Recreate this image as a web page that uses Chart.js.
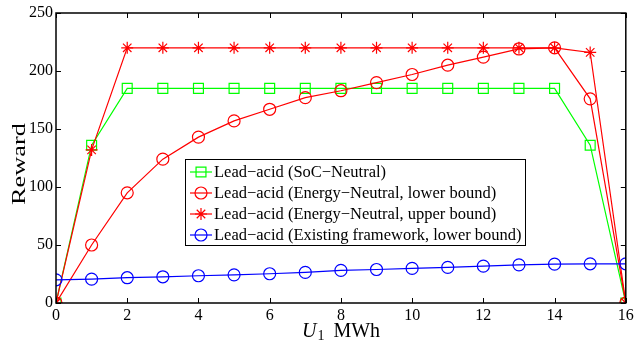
<!DOCTYPE html>
<html><head><meta charset="utf-8">
<script src="https://cdn.jsdelivr.net/npm/chart.js@4/dist/chart.umd.min.js"></script>
<style>html,body{margin:0;padding:0;background:#fff}#wrap{width:634px;height:343px}</style>
</head><body><div id="wrap"><canvas id="c" width="634" height="343"></canvas></div>
<script>
const xValues = [0,1,2,3,4,5,6,7,8,9,10,11,12,13,14,15,16];
const socNeutral = [0,136,185,185,185,185,185,185,185,185,185,185,185,185,185,136,0];
const energyLower = [0,50,95,124,143,157,167,177,183,190,197,205,212,219,220,176,0];
const energyUpper = [0,132,220,220,220,220,220,220,220,220,220,220,220,220,220,216,0];
const existingLower = [20,20.6,21.8,22.6,23.5,24.3,25.2,26.4,28.1,28.9,29.8,30.7,31.8,32.9,33.5,33.8,33.8];
const xTicks = [0,2,4,6,8,10,12,14,16];
const yTicks = [0,50,100,150,200,250];
const seriesNames = [
  'Lead\u2212acid (SoC\u2212Neutral)',
  'Lead\u2212acid (Energy\u2212Neutral, lower bound)',
  'Lead\u2212acid (Energy\u2212Neutral, upper bound)',
  'Lead\u2212acid (Existing framework, lower bound)'
];
const yTitle = 'Reward';
const FONT = '"Liberation Serif", "Times New Roman", serif';

function pts(arr){ return arr.map((v,i)=>({x:xValues[i], y:v})); }
function ds(label, data, color, style, r){
  return {label, data:pts(data), borderColor:color, backgroundColor:color, borderWidth:1.2,
    pointStyle:style, pointRadius:r, pointHoverRadius:r, pointBorderColor:color,
    pointBackgroundColor:'rgba(0,0,0,0)', pointBorderWidth:1.2, tension:0, fill:false};
}
const datasets = [
  ds(seriesNames[3], existingLower, '#0000ff', 'circle', 6),
  ds(seriesNames[2], energyUpper, '#ff0000', 'star', 6),
  ds(seriesNames[1], energyLower, '#ff0000', 'circle', 6),
  ds(seriesNames[0], socNeutral, '#00ff00', 'rect', 7),
];
const legendItems = [
  {name:seriesNames[0], color:'#00ff00', style:'rect', r:7},
  {name:seriesNames[1], color:'#ff0000', style:'circle', r:6},
  {name:seriesNames[2], color:'#ff0000', style:'star', r:6},
  {name:seriesNames[3], color:'#0000ff', style:'circle', r:6},
];

function drawMarker(ctx, style, r, x, y){
  ctx.fillStyle = 'rgba(0,0,0,0)';
  if (Chart.helpers && Chart.helpers.drawPoint){
    Chart.helpers.drawPoint(ctx, {pointStyle:style, radius:r, rotation:0, borderWidth:1.2}, x, y);
    return;
  }
  ctx.beginPath();
  if (style==='circle'){ ctx.arc(x,y,r,0,Math.PI*2); }
  else if (style==='rect'){ const s=r*Math.SQRT1_2; ctx.rect(x-s,y-s,2*s,2*s); }
  else { for (let k=0;k<4;k++){ const a=k*Math.PI/4; ctx.moveTo(x-Math.cos(a)*r,y-Math.sin(a)*r); ctx.lineTo(x+Math.cos(a)*r,y+Math.sin(a)*r);} }
  ctx.stroke();
}

const framePlugin = {
  id:'frame',
  afterDraw(chart){
    const ctx = chart.ctx, a = chart.chartArea, xs = chart.scales.x, ys = chart.scales.y;
    ctx.save();
    ctx.strokeStyle = '#000'; ctx.lineWidth = 1.5;
    ctx.strokeRect(a.left, a.top, a.right-a.left, a.bottom-a.top);
    ctx.lineWidth = 1;
    const L = 5;
    ctx.beginPath();
    xTicks.forEach(t=>{ const px = Math.round(xs.getPixelForValue(t))+0.5;
      ctx.moveTo(px,a.bottom); ctx.lineTo(px,a.bottom-L); ctx.moveTo(px,a.top); ctx.lineTo(px,a.top+L); });
    yTicks.forEach(t=>{ const py = Math.round(ys.getPixelForValue(t))+0.5;
      ctx.moveTo(a.left,py); ctx.lineTo(a.left+L,py); ctx.moveTo(a.right,py); ctx.lineTo(a.right-L,py); });
    ctx.stroke();

    // x tick labels
    ctx.fillStyle='#000'; ctx.font='16px ' + FONT; ctx.textAlign='center'; ctx.textBaseline='top';
    xTicks.forEach(t=>{ ctx.fillText(String(t), xs.getPixelForValue(t), a.bottom + 5); });

    // legend
    const bx=185.5, by=159.5, bw=340, bh=86;
    ctx.fillStyle='#fff'; ctx.fillRect(bx,by,bw,bh);
    ctx.strokeStyle='#000'; ctx.lineWidth=1; ctx.strokeRect(bx,by,bw,bh);
    legendItems.forEach((it,i)=>{
      const y = 172 + i*21;
      ctx.strokeStyle = it.color; ctx.lineWidth=1.2;
      ctx.beginPath(); ctx.moveTo(190,y); ctx.lineTo(212,y); ctx.stroke();
      drawMarker(ctx, it.style, it.r, 201, y);
      ctx.font = '16.5px ' + FONT; ctx.textBaseline='middle'; ctx.textAlign='left';
      ctx.fillStyle='#000'; ctx.fillText(it.name, 214, y+1);
    });

    // y title
    ctx.save();
    ctx.translate(25, (a.top+a.bottom)/2 + 6);
    ctx.rotate(-Math.PI/2);
    ctx.font = '19px ' + FONT; ctx.textAlign='center'; ctx.textBaseline='alphabetic';
    const wr = ctx.measureText(yTitle).width;
    ctx.scale(82/wr, 1);
    ctx.fillStyle='#000'; ctx.fillText(yTitle, 0, 0);
    ctx.restore();

    // x title: U_1 MWh
    ctx.fillStyle='#000'; ctx.textBaseline='alphabetic'; ctx.textAlign='left';
    ctx.font = 'italic 20px ' + FONT;
    const wU = ctx.measureText('U').width;
    ctx.font = '14px ' + FONT;
    const w1 = ctx.measureText('1').width;
    ctx.font = '20px ' + FONT;
    const wM = ctx.measureText('  MWh').width;
    let x0 = 341 - (wU + w1 + wM)/2, yb = 337;
    ctx.font = 'italic 20px ' + FONT; ctx.fillText('U', x0, yb);
    ctx.font = '14px ' + FONT; ctx.fillText('1', x0+wU+1, yb+3);
    ctx.font = '20px ' + FONT; ctx.fillText('  MWh', x0+wU+w1, yb);
    ctx.restore();
  }
};

new Chart(document.getElementById('c'), {
  type:'line',
  data:{datasets},
  options:{
    responsive:false, animation:false, devicePixelRatio:1,
    layout:{padding:{top:13, right:7, left:0, bottom:0}},
    plugins:{legend:{display:false}, tooltip:{enabled:false}},
    scales:{
      x:{type:'linear', min:0, max:16,
        afterBuildTicks(s){ s.ticks = xTicks.map(v=>({value:v})); },
        afterFit(s){ s.height = 40; s.paddingLeft = 0; s.paddingRight = 0; },
        grid:{display:false, drawTicks:false}, border:{display:false},
        ticks:{display:false}
      },
      y:{type:'linear', min:0, max:250,
        afterBuildTicks(s){ s.ticks = yTicks.map(v=>({value:v})); },
        afterFit(s){ s.width = 56; s.paddingTop = 0; s.paddingBottom = 0; },
        grid:{display:false, drawTicks:false}, border:{display:false},
        ticks:{color:'#000', padding:3, font:{family:FONT, size:16}}
      }
    }
  },
  plugins:[framePlugin]
});
</script></body></html>
